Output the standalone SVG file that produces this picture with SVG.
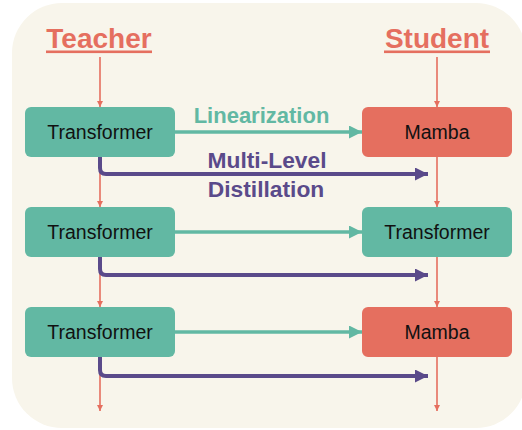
<svg xmlns="http://www.w3.org/2000/svg" width="522" height="430" viewBox="0 0 522 430">
<style>
.hdr{font-family:"Liberation Sans",Arial,sans-serif;font-weight:bold;font-size:28px;fill:#e56f5f;text-anchor:middle}
.lbl{font-family:"Liberation Sans",Arial,sans-serif;font-weight:bold;font-size:22px;text-anchor:middle}
.lbl2{font-size:22.8px}
.nt{font-family:"Liberation Sans",Arial,sans-serif;font-size:19.5px;fill:#111;text-anchor:middle}
.tf{fill:#62b8a3}
.mb{fill:#e56f5f}
.red{stroke:#e56f5f;stroke-width:1.6;fill:none}
.teal{stroke:#62b8a3;stroke-width:3.5;fill:none}
.pur{stroke:#5a4a8a;stroke-width:4;fill:none}
</style>
<defs>
<marker id="ar" viewBox="0 0 10 10" refX="10" refY="5" markerWidth="6" markerHeight="10" markerUnits="userSpaceOnUse" orient="auto">
<path d="M0,0 L10,5 L0,10 z" fill="#e56f5f"/>
</marker>
<marker id="at" viewBox="0 0 14 14" refX="14" refY="7" markerWidth="14" markerHeight="13" markerUnits="userSpaceOnUse" orient="auto">
<path d="M0,0 L14,7 L0,14 z" fill="#62b8a3"/>
</marker>
<marker id="ap" viewBox="0 0 14 14" refX="14" refY="7" markerWidth="13" markerHeight="13" markerUnits="userSpaceOnUse" orient="auto">
<path d="M0,0 L14,7 L0,14 z" fill="#5a4a8a"/>
</marker>
</defs>
<rect x="12" y="3" width="514" height="425" rx="50" fill="#f8f5eb"/>
<g id="headers">
<text class="hdr" x="99" y="48">Teacher</text>
<rect x="46" y="50.5" width="106" height="2.6" fill="#e56f5f"/>
<text class="hdr" x="437" y="48">Student</text>
<rect x="384" y="50.5" width="106" height="2.6" fill="#e56f5f"/>
</g>
<g id="connectors">
<path class="red" d="M100,57 V107" marker-end="url(#ar)"/>
<path class="red" d="M100,157 V207" marker-end="url(#ar)"/>
<path class="red" d="M100,257 V307" marker-end="url(#ar)"/>
<path class="red" d="M100,357 V411" marker-end="url(#ar)"/>
<path class="red" d="M437,57 V107" marker-end="url(#ar)"/>
<path class="red" d="M437,157 V207" marker-end="url(#ar)"/>
<path class="red" d="M437,257 V307" marker-end="url(#ar)"/>
<path class="red" d="M437,357 V411" marker-end="url(#ar)"/>
<path class="teal" d="M175,132 H362" marker-end="url(#at)"/>
<path class="teal" d="M175,232 H362" marker-end="url(#at)"/>
<path class="teal" d="M175,332 H362" marker-end="url(#at)"/>
<path class="pur" d="M100,157 V168 Q100,174 106,174 H428" marker-end="url(#ap)"/>
<path class="pur" d="M100,257 V269 Q100,275 106,275 H428" marker-end="url(#ap)"/>
<path class="pur" d="M100,357 V370 Q100,376 106,376 H428" marker-end="url(#ap)"/>
<text class="lbl" x="261.5" y="123" fill="#62b8a3">Linearization</text>
<text class="lbl lbl2" x="267" y="168" fill="#5a4a8a">Multi-Level</text>
<text class="lbl lbl2" x="266" y="197" fill="#5a4a8a">Distillation</text>
</g>
<g id="t1"><rect class="tf" x="25" y="107" width="150" height="50" rx="6"/><text class="nt" x="100" y="139">Transformer</text></g>
<g id="s1"><rect class="mb" x="362" y="107" width="150" height="50" rx="6"/><text class="nt" x="437" y="139">Mamba</text></g>
<g id="t2"><rect class="tf" x="25" y="207" width="150" height="50" rx="6"/><text class="nt" x="100" y="239">Transformer</text></g>
<g id="s2"><rect class="tf" x="362" y="207" width="150" height="50" rx="6"/><text class="nt" x="437" y="239">Transformer</text></g>
<g id="t3"><rect class="tf" x="25" y="307" width="150" height="50" rx="6"/><text class="nt" x="100" y="339">Transformer</text></g>
<g id="s3"><rect class="mb" x="362" y="307" width="150" height="50" rx="6"/><text class="nt" x="437" y="339">Mamba</text></g>
</svg>
